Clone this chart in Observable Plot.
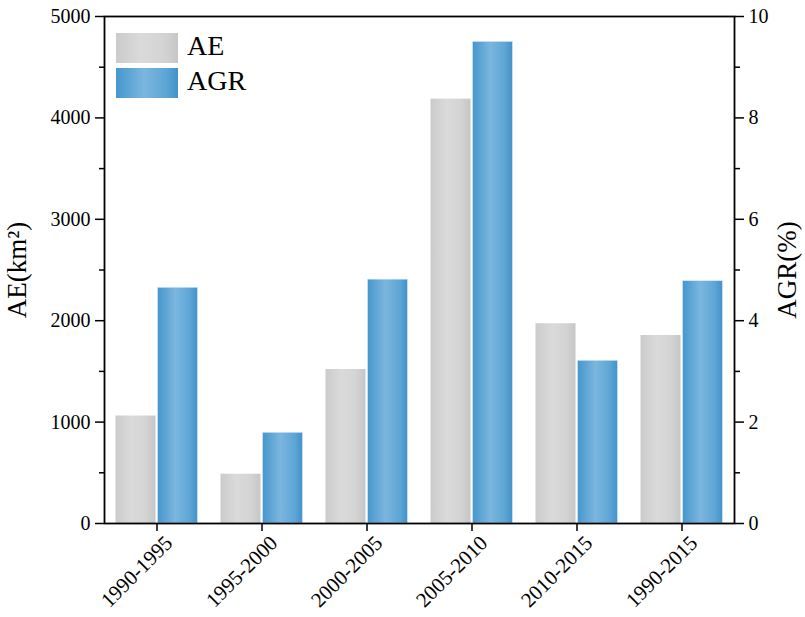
<!DOCTYPE html>
<html>
<head>
<meta charset="utf-8">
<script src="https://cdn.jsdelivr.net/npm/d3@7"></script>
<script src="https://cdn.jsdelivr.net/npm/@observablehq/plot@0.6"></script>
<style>
  html, body { margin: 0; padding: 0; background: #fff; }
  #wrap { position: relative; width: 805px; height: 617px; font-family: "Liberation Serif", "Times New Roman", serif; }
  #legend { position: absolute; left: 116px; top: 30px; font-size: 28px; color: #000; }
  .item { display: flex; align-items: center; height: 35.5px; }
  .item span { position: relative; top: -2px; }
  .sw { width: 62px; height: 30px; margin-right: 9px; }
</style>
</head>
<body>
<div id="wrap"></div>
<script>
const categories = ["1990-1995", "1995-2000", "2000-2005", "2005-2010", "2010-2015", "1990-2015"];
const aeValues = [1060, 486, 1519, 4185, 1970, 1854];
const agrValues = [4.65, 1.79, 4.81, 9.50, 3.21, 4.78];
const aeTicks = [0, 1000, 2000, 3000, 4000, 5000];
const aeMinor = [500, 1500, 2500, 3500, 4500];
const agrTicks = [0, 2, 4, 6, 8, 10];
const agrMinor = [1, 3, 5, 7, 9];
const seriesNames = ["AE", "AGR"];

const k = 5000 / 10; // AGR -> AE scale factor
const rows = categories.map((c, i) => ({cat: c, ae: aeValues[i], agr: agrValues[i]}));

const font = '"Liberation Serif", "Times New Roman", serif';

const chart = Plot.plot({
  width: 805,
  height: 617,
  marginLeft: 104,
  marginRight: 71,
  marginTop: 16,
  marginBottom: 94,
  style: {fontFamily: font, color: "#000", background: "#fff"},
  x: {domain: categories, padding: 0, label: null},
  y: {domain: [0, 5000], label: null},
  marks: [
    Plot.barY(rows, {x: "cat", y: "ae", fill: "url(#gGray)", insetLeft: 11.5, insetRight: 53.5}),
    Plot.barY(rows, {x: "cat", y: d => d.agr * k, fill: "url(#gBlue)", stroke: "#d8ebf7", strokeWidth: 0.6, insetLeft: 53.5, insetRight: 11.5}),
    Plot.frame({stroke: "#000", strokeWidth: 1.8}),
    Plot.axisY({ticks: aeTicks, tickFormat: d => String(d), tickSize: 9, tickPadding: 5, fontSize: 20, strokeWidth: 1.5, label: null}),
    Plot.axisY({ticks: aeMinor, tickSize: 5, tickFormat: () => "", strokeWidth: 1.5, label: null}),
    Plot.axisY({ticks: [2500], tickSize: 0, tickFormat: () => "", label: "AE(km²)", labelAnchor: "center", labelOffset: 98, labelArrow: "none", fontSize: 27}),
    Plot.axisY({anchor: "right", ticks: agrTicks.map(v => v * k), tickFormat: d => String(d / k), tickSize: 9, tickPadding: 5, fontSize: 20, strokeWidth: 1.5, label: null}),
    Plot.axisY({anchor: "right", ticks: agrMinor.map(v => v * k), tickSize: 5, tickFormat: () => "", strokeWidth: 1.5, label: null}),
    Plot.axisY({anchor: "right", ticks: [2500], tickSize: 0, tickFormat: () => "", label: "AGR(%)", labelAnchor: "center", labelOffset: 61, labelArrow: "none", fontSize: 27}),
    Plot.axisX({tickSize: 8, strokeWidth: 1.5, tickFormat: () => "", label: null}),
    Plot.axisX({tickSize: 0, tickRotate: -45, tickPadding: 4, dx: 12, dy: 12, fontSize: 21, label: null})
  ]
});

const defs = `
<linearGradient id="gGray" x1="0" x2="1" y1="0" y2="0">
  <stop offset="0" stop-color="#cbcbcb"/>
  <stop offset="0.4" stop-color="#dadada"/>
  <stop offset="0.75" stop-color="#d4d4d4"/>
  <stop offset="1" stop-color="#c6c6c6"/>
</linearGradient>
<linearGradient id="gBlue" x1="0" x2="1" y1="0" y2="0">
  <stop offset="0" stop-color="#4597cd"/>
  <stop offset="0.45" stop-color="#7bb6de"/>
  <stop offset="0.8" stop-color="#5ea6d6"/>
  <stop offset="1" stop-color="#4292c9"/>
</linearGradient>`;
d3.select(chart).insert("defs", ":first-child").html(defs);

const wrap = document.getElementById("wrap");
wrap.appendChild(chart);

const legend = document.createElement("div");
legend.id = "legend";
const swatchBg = {
  AE: "linear-gradient(to right, #cbcbcb, #dadada 40%, #d4d4d4 75%, #c6c6c6)",
  AGR: "linear-gradient(to right, #4597cd, #7bb6de 45%, #5ea6d6 80%, #4292c9)"
};
seriesNames.forEach(name => {
  const it = document.createElement("div");
  it.className = "item";
  const sw = document.createElement("div");
  sw.className = "sw";
  sw.style.background = swatchBg[name];
  const t = document.createElement("span");
  t.textContent = name;
  it.appendChild(sw);
  it.appendChild(t);
  legend.appendChild(it);
});
wrap.appendChild(legend);
</script>
</body>
</html>
